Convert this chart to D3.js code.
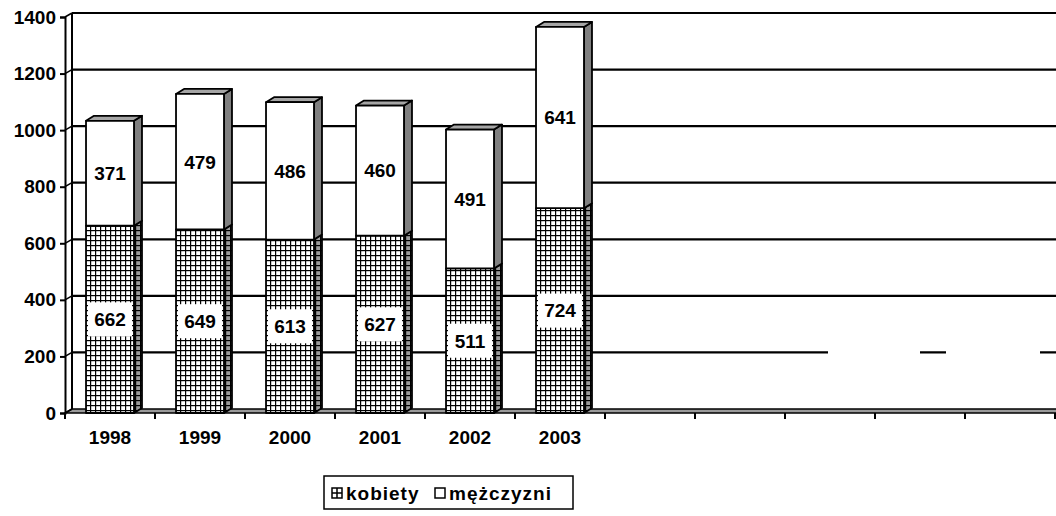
<!DOCTYPE html>
<html lang="pl">
  <head>
    <meta charset="UTF-8" />
    <title>kobiety / mężczyzni</title>
    <script src="https://cdn.jsdelivr.net/npm/d3@7"></script>
    <style>
      body {
        margin: 0;
        background: #fff;
        font-family: "Liberation Sans", Arial, sans-serif;
      }
      svg text {
        font-weight: bold;
        font-size: 19px;
        fill: #000;
      }
    </style>
  </head>
  <body>
    <div id="chart"></div>
    <script>
      // data
      var years = ["1998", "1999", "2000", "2001", "2002", "2003"];
      var kobiety = [662, 649, 613, 627, 511, 724];
      var mezczyzni = [371, 479, 486, 460, 491, 641];
      var slotCount = 11; // 6 years + 5 empty slots on the axis
      var yTicks = [0, 200, 400, 600, 800, 1000, 1200, 1400];
      var seriesNames = ["kobiety", "mężczyzni"];

      var width = 1056,
        height = 516;

      var svg = d3
        .select("#chart")
        .append("svg")
        .attr("width", width)
        .attr("height", height);

      // patterns for the crosshatch fill
      var defs = svg.append("defs");
      function gridPattern(id, bg) {
        var p = defs
          .append("pattern")
          .attr("id", id)
          .attr("patternUnits", "userSpaceOnUse")
          .attr("width", 5)
          .attr("height", 5);
        p.append("rect").attr("width", 5).attr("height", 5).attr("fill", bg);
        p.append("rect").attr("width", 5).attr("height", 1.2).attr("fill", "#000");
        p.append("rect").attr("width", 1.2).attr("height", 5).attr("fill", "#000");
      }
      gridPattern("grid", "#fff");
      gridPattern("gridSide", "#9a9a9a");

      var x = d3
        .scaleBand()
        .domain(d3.range(slotCount))
        .range([65, 1055])
        .paddingInner(0.467)
        .paddingOuter(0.2335);

      var y = d3.scaleLinear().domain([0, 1400]).range([413, 17]);

      // 3d offsets
      var wdx = 7,
        wdy = -4; // walls
      var bdx = 8,
        bdy = -5; // bars

      var x0 = 65,
        xEnd = 1060;

      // floor
      svg
        .append("path")
        .attr(
          "d",
          "M" + x0 + "," + y(0) +
            "L" + xEnd + "," + y(0) +
            "L" + xEnd + "," + (y(0) + wdy) +
            "L" + (x0 + wdx) + "," + (y(0) + wdy) + "Z"
        )
        .attr("fill", "#9a9a9a")
        .attr("stroke", "#000")
        .attr("stroke-width", 1.5);

      // gridlines on back wall, with side wall diagonals
      var grid = svg.append("g").attr("class", "grid");
      grid
        .selectAll(".hline")
        .data(yTicks.slice(1))
        .enter()
        .append("line")
        .attr("class", "hline")
        .attr("x1", x0 + wdx)
        .attr("x2", xEnd)
        .attr("y1", (d) => y(d) + wdy)
        .attr("y2", (d) => y(d) + wdy)
        .attr("stroke", "#000")
        .attr("stroke-width", 2.2)
        // the 200 line is broken up on the right in the original
        .attr("stroke-dasharray", (d) => (d === 200 ? "756 92 26 94 40" : null));

      grid
        .selectAll(".diag")
        .data(yTicks)
        .enter()
        .append("line")
        .attr("class", "diag")
        .attr("x1", x0)
        .attr("x2", x0 + wdx)
        .attr("y1", (d) => y(d))
        .attr("y2", (d) => y(d) + wdy)
        .attr("stroke", "#000")
        .attr("stroke-width", 1.5);

      // back edge of side wall
      svg
        .append("line")
        .attr("x1", x0 + wdx)
        .attr("x2", x0 + wdx)
        .attr("y1", y(0) + wdy)
        .attr("y2", y(1400) + wdy)
        .attr("stroke", "#000")
        .attr("stroke-width", 2);

      // front value axis
      var yAxis = svg
        .append("g")
        .attr("transform", "translate(" + x0 + ",0)")
        .call(
          d3
            .axisLeft(y)
            .tickValues(yTicks)
            .tickFormat(d3.format("d"))
            .tickSize(5)
            .tickPadding(4)
        );
      yAxis.select(".domain").attr("stroke", "#000").attr("stroke-width", 2);
      yAxis.selectAll(".tick line").attr("stroke", "#000").attr("stroke-width", 2);
      yAxis
        .selectAll(".tick text")
        .attr("font-family", "Liberation Sans, Arial, sans-serif")
        .attr("font-size", 19)
        .attr("font-weight", "bold");

      // category ticks at slot edges
      var edges = d3.range(slotCount + 1).map((i) => x0 + i * x.step());
      svg
        .selectAll(".xtick")
        .data(edges)
        .enter()
        .append("line")
        .attr("x1", (d) => d)
        .attr("x2", (d) => d)
        .attr("y1", y(0))
        .attr("y2", y(0) + 6)
        .attr("stroke", "#000")
        .attr("stroke-width", 2);

      svg
        .selectAll(".xlabel")
        .data(years)
        .enter()
        .append("text")
        .attr("x", (d, i) => x(i) + x.bandwidth() / 2)
        .attr("y", 444)
        .attr("text-anchor", "middle")
        .text((d) => d);

      // bars
      var bw = x.bandwidth();
      function sidePath(xl, yTop, yBot) {
        var xr = xl + bw;
        return (
          "M" + xr + "," + yTop +
          "L" + (xr + bdx) + "," + (yTop + bdy) +
          "L" + (xr + bdx) + "," + (yBot + bdy) +
          "L" + xr + "," + yBot + "Z"
        );
      }
      function topPath(xl, yTop) {
        return (
          "M" + xl + "," + yTop +
          "L" + (xl + bdx) + "," + (yTop + bdy) +
          "L" + (xl + bw + bdx) + "," + (yTop + bdy) +
          "L" + (xl + bw) + "," + yTop + "Z"
        );
      }

      var bars = svg
        .selectAll(".bar")
        .data(years)
        .enter()
        .append("g")
        .attr("class", "bar")
        .attr("stroke", "#000")
        .attr("stroke-width", 1.8)
        .attr("stroke-linejoin", "round");

      // kobiety segment
      bars
        .append("path")
        .attr("d", (d, i) => sidePath(x(i), y(kobiety[i]), y(0)))
        .attr("fill", "url(#gridSide)");
      bars
        .append("rect")
        .attr("x", (d, i) => x(i))
        .attr("y", (d, i) => y(kobiety[i]))
        .attr("width", bw)
        .attr("height", (d, i) => y(0) - y(kobiety[i]))
        .attr("fill", "url(#grid)");

      // mężczyzni segment
      bars
        .append("path")
        .attr("d", (d, i) => sidePath(x(i), y(kobiety[i] + mezczyzni[i]), y(kobiety[i])))
        .attr("fill", "#808080");
      bars
        .append("path")
        .attr("d", (d, i) => topPath(x(i), y(kobiety[i] + mezczyzni[i])))
        .attr("fill", "#a6a6a6");
      bars
        .append("rect")
        .attr("x", (d, i) => x(i))
        .attr("y", (d, i) => y(kobiety[i] + mezczyzni[i]))
        .attr("width", bw)
        .attr("height", (d, i) => y(kobiety[i]) - y(kobiety[i] + mezczyzni[i]))
        .attr("fill", "#fff");

      // value labels
      var labels = svg.append("g");
      years.forEach((yr, i) => {
        var cx = x(i) + bw / 2;
        var cyK = (y(0) + y(kobiety[i])) / 2;
        var cyM = (y(kobiety[i]) + y(kobiety[i] + mezczyzni[i])) / 2;
        labels
          .append("rect")
          .attr("x", cx - 22)
          .attr("y", cyK - 17)
          .attr("width", 44)
          .attr("height", 34)
          .attr("fill", "#fff");
        labels
          .append("text")
          .attr("x", cx)
          .attr("y", cyK)
          .attr("dy", "0.36em")
          .attr("text-anchor", "middle")
          .text(kobiety[i]);
        labels
          .append("text")
          .attr("x", cx)
          .attr("y", cyM)
          .attr("dy", "0.36em")
          .attr("text-anchor", "middle")
          .text(mezczyzni[i]);
      });

      // legend
      var legend = svg.append("g").attr("transform", "translate(324,476)");
      legend
        .append("rect")
        .attr("width", 249)
        .attr("height", 33)
        .attr("fill", "#fff")
        .attr("stroke", "#000")
        .attr("stroke-width", 1.5);
      var legendItems = [
        { name: seriesNames[0], cross: true, x: 8, tx: 22 },
        { name: seriesNames[1], cross: false, x: 111, tx: 125 }
      ];
      legendItems.forEach((it) => {
        legend
          .append("rect")
          .attr("x", it.x)
          .attr("y", 12)
          .attr("width", 10)
          .attr("height", 10)
          .attr("fill", "#fff")
          .attr("stroke", "#000")
          .attr("stroke-width", 1.5);
        if (it.cross) {
          legend
            .append("path")
            .attr("d", "M" + (it.x + 5) + ",12V22M" + it.x + ",17H" + (it.x + 10))
            .attr("stroke", "#000")
            .attr("stroke-width", 1.5);
        }
        legend
          .append("text")
          .attr("x", it.tx)
          .attr("y", 17)
          .attr("dy", "0.36em")
          .attr("letter-spacing", "1px")
          .text(it.name);
      });
    </script>
  </body>
</html>
